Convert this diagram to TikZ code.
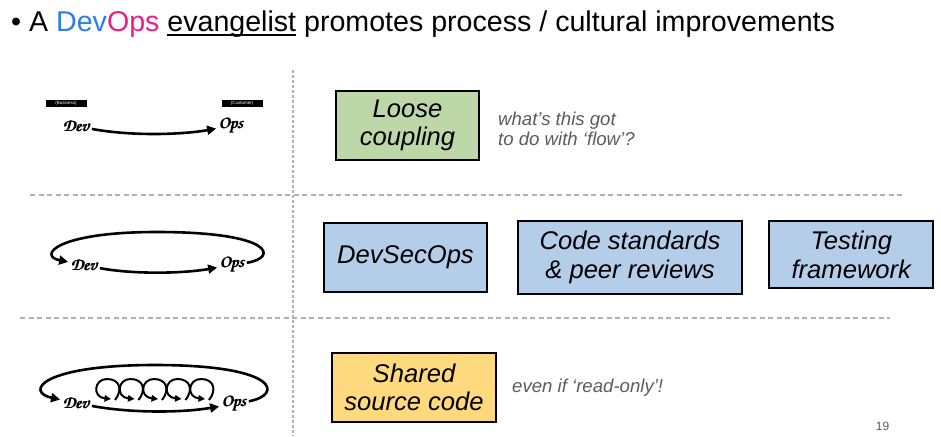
\documentclass[tikz,border=0pt]{standalone}
\usepackage[T1,TU]{fontenc}
\usepackage{fontspec}
\setmainfont{Liberation Sans}
\usetikzlibrary{arrows.meta}
\definecolor{devblue}{RGB}{45,125,232}
\definecolor{opspink}{RGB}{236,30,130}
\definecolor{boxgreen}{RGB}{189,215,169}
\definecolor{boxblue}{RGB}{180,205,233}
\definecolor{boxyellow}{RGB}{255,217,125}
\definecolor{notegray}{RGB}{90,90,100}
\definecolor{sepgray}{RGB}{178,178,178}
\newcommand\ulword[1]{\setbox0\hbox{#1}\rlap{\rule[-4.5pt]{\wd0}{1.8pt}}\box0\relax}
\newcommand\chancery{\fontencoding{T1}\fontfamily{pzc}\fontseries{mb}\fontshape{it}\selectfont}
\newcommand\fakebold[1]{\rlap{#1}\kern0.45pt\rlap{#1}\kern0.45pt#1}
\tikzset{
  boxstyle/.style={draw=black, line width=1.8pt, align=center, inner sep=0pt,
    font=\itshape\fontsize{25.6}{28.6}\selectfont},
  note/.style={anchor=west, align=left, inner sep=0pt, text=notegray,
    font=\itshape\fontsize{18.6}{20.5}\selectfont},
  devops/.style={inner sep=1pt, outer sep=1.5pt, font=\chancery\fontsize{17.5}{17.5}\selectfont},
  tag/.style={fill=black, text=white, inner sep=0pt, minimum width=41pt, minimum height=7pt,
    font=\fontsize{4.5}{5}\selectfont},
  bigarrow/.style={line width=2.6pt, -{Triangle[length=9pt,width=9pt]}},
  smallarrow/.style={line width=2pt, -{Triangle[length=6.5pt,width=6.5pt]}},
  hsep/.style={sepgray, line width=1.6pt, dash pattern=on 5pt off 3.5pt},
  vsep/.style={sepgray, line width=1.6pt, dash pattern=on 2.5pt off 2.5pt},
}
\begin{document}
\begin{tikzpicture}[x=1pt,y=-1pt]
\useasboundingbox (0,0) rectangle (941,436);

% title
\node[anchor=base west, inner sep=0pt, font=\fontsize{28.6}{32}\selectfont] (title) at (11,31.5)
  {• A \textcolor{devblue}{Dev}\textcolor{opspink}{Ops} \ulword{evangelist} promotes process / cultural improvements};

% separators
\draw[vsep] (293,70) -- (293,436);
\draw[hsep] (30,194.7) -- (902,194.7);
\draw[hsep] (20,318) -- (890,318);

% row 1
\node[tag] (bus) at (66,103.7) {(Business)};
\node[tag] (cus) at (242,103.7) {(Customer)};
\node[devops] (dev1) at (76,126) {\fakebold{Dev}};
\node[devops] (ops1) at (231,126) {\fakebold{Ops}};
\draw[bigarrow] (dev1) .. controls (130,136) and (180,135) .. (ops1);

% row 2
\node[devops] (dev2) at (84,265) {\fakebold{Dev}};
\node[devops] (ops2) at (232,265) {\fakebold{Ops}};
\draw[bigarrow] (dev2) .. controls (130,274) and (180,274) .. (ops2);
\draw[bigarrow] (ops2) .. controls (278,258) and (275,232) .. (157,232)
  .. controls (55,232) and (38,256) .. (dev2);

% row 3
\node[devops] (dev3) at (76,403) {\fakebold{Dev}};
\node[devops] (ops3) at (234,404) {\fakebold{Ops}};
\draw[bigarrow] (dev3) .. controls (130,413) and (180,413) .. (ops3);
\draw[bigarrow] (ops3) .. controls (283,395) and (280,365) .. (155,365)
  .. controls (40,365) and (25,392) .. (dev3);
\foreach \i in {0,...,4} {
  \pgfmathsetmacro\xo{96+23.5*\i}
  \draw[smallarrow] (\xo+19,400) .. controls (\xo+27,390) and (\xo+24,379) .. (\xo+11,379)
    .. controls (\xo-2,379) and (\xo-4,397) .. (\xo+15,399);
}

% boxes
\node[boxstyle, fill=boxgreen, minimum width=143pt, minimum height=69pt] (loose) at (407.5,125.5) {Loose\\coupling};
\node[note] (flow) at (498,129) {what’s this got\\to do with ‘flow’?};

\node[boxstyle, fill=boxblue, minimum width=163pt, minimum height=69pt] (dso) at (405.5,257.3) {DevSecOps};
\node[boxstyle, fill=boxblue, minimum width=224pt, minimum height=73pt] (code) at (630,257.5) {Code standards\\\& peer reviews};
\node[boxstyle, fill=boxblue, minimum width=164pt, minimum height=67pt] (test) at (851.3,254.7) {Testing\\framework};

\node[boxstyle, fill=boxyellow, minimum width=164pt, minimum height=69pt] (shared) at (414,387.5) {Shared\\source code};
\node[note] (ro) at (512,388) {even if ‘read-only’!};

\node[font=\fontsize{12}{12}\selectfont, text=notegray, inner sep=0pt] (pg) at (882.5,426) {19};
\end{tikzpicture}
\end{document}
